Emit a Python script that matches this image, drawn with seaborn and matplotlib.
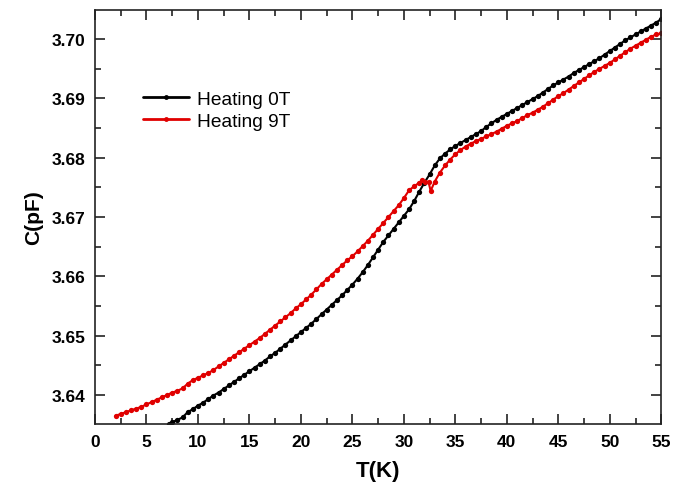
import numpy as np
import pandas as pd
import matplotlib
matplotlib.use("Agg")
import matplotlib.pyplot as plt
import seaborn as sns
from matplotlib.ticker import MultipleLocator, FormatStrFormatter

# ---- data ----
temp_0T = [7.2, 7.5, 8, 8.5, 9, 9.5, 10, 10.5, 11, 11.5, 12, 12.5, 13, 13.5, 14, 14.5,
           15, 15.5, 16, 16.5, 17, 17.5, 18, 18.5, 19, 19.5, 20, 20.5, 21, 21.5, 22,
           22.5, 23, 23.5, 24, 24.5, 25, 25.5, 26, 26.5, 27, 27.5, 28, 28.5, 29, 29.5,
           30, 30.5, 31, 31.5, 32, 32.5, 33, 33.5, 34, 34.5, 35, 35.5, 36, 36.5, 37,
           37.5, 38, 38.5, 39, 39.5, 40, 40.5, 41, 41.5, 42, 42.5, 43, 43.5, 44, 44.5,
           45, 45.5, 46, 46.5, 47, 47.5, 48, 48.5, 49, 49.5, 50, 50.5, 51, 51.5, 52,
           52.5, 53, 53.5, 54, 54.5, 55]
cap_0T = [3.6351, 3.6354, 3.6358, 3.6362, 3.6371, 3.6376, 3.6382, 3.6387, 3.6393, 3.6399,
          3.6404, 3.6410, 3.6416, 3.6422, 3.6428, 3.6434, 3.6440, 3.6446, 3.6452, 3.6458,
          3.6465, 3.6471, 3.6478, 3.6485, 3.6492, 3.6499, 3.6506, 3.6513, 3.6520, 3.6528,
          3.6536, 3.6544, 3.6552, 3.6560, 3.6568, 3.6577, 3.6586, 3.6596, 3.6607, 3.6619,
          3.6632, 3.6645, 3.6658, 3.6669, 3.6680, 3.6691, 3.6702, 3.6713, 3.6727, 3.6743,
          3.6758, 3.6772, 3.6787, 3.6799, 3.6807, 3.6814, 3.6820, 3.6825, 3.6830, 3.6835,
          3.6840, 3.6845, 3.6852, 3.6858, 3.6864, 3.6869, 3.6874, 3.6879, 3.6884, 3.6889,
          3.6894, 3.6899, 3.6904, 3.6910, 3.6916, 3.6922, 3.6927, 3.6932, 3.6937, 3.6943,
          3.6948, 3.6953, 3.6958, 3.6963, 3.6968, 3.6974, 3.6980, 3.6986, 3.6992, 3.6998,
          3.7003, 3.7008, 3.7013, 3.7018, 3.7023, 3.7028, 3.7034]

temp_9T = [2, 2.5, 3, 3.5, 4, 4.5, 5, 5.5, 6, 6.5, 7, 7.5, 8, 8.5, 9, 9.5, 10, 10.5,
           11, 11.5, 12, 12.5, 13, 13.5, 14, 14.5, 15, 15.5, 16, 16.5, 17, 17.5, 18,
           18.5, 19, 19.5, 20, 20.5, 21, 21.5, 22, 22.5, 23, 23.5, 24, 24.5, 25, 25.5,
           26, 26.5, 27, 27.5, 28, 28.5, 29, 29.5, 30, 30.5, 31, 31.5, 31.8, 32.1, 32.4,
           32.6, 33, 33.5, 34, 34.5, 35, 35.5, 36, 36.5, 37, 37.5, 38, 38.5, 39, 39.5,
           40, 40.5, 41, 41.5, 42, 42.5, 43, 43.5, 44, 44.5, 45, 45.5, 46, 46.5, 47,
           47.5, 48, 48.5, 49, 49.5, 50, 50.5, 51, 51.5, 52, 52.5, 53, 53.5, 54, 54.5, 55]
cap_9T = [3.6365, 3.6368, 3.6371, 3.6374, 3.6377, 3.6380, 3.6384, 3.6388, 3.6392, 3.6396,
          3.6400, 3.6404, 3.6407, 3.6411, 3.6419, 3.6425, 3.6429, 3.6433, 3.6437, 3.6442,
          3.6448, 3.6454, 3.6460, 3.6466, 3.6472, 3.6478, 3.6484, 3.6490, 3.6496, 3.6503,
          3.6510, 3.6517, 3.6524, 3.6531, 3.6538, 3.6546, 3.6553, 3.6561, 3.6569, 3.6578,
          3.6587, 3.6595, 3.6603, 3.6611, 3.6619, 3.6627, 3.6634, 3.6642, 3.6651, 3.6660,
          3.6670, 3.6680, 3.6690, 3.6700, 3.6710, 3.6720, 3.6732, 3.6745, 3.6752, 3.6758,
          3.6762, 3.6760, 3.6759, 3.6744, 3.6760, 3.6775, 3.6787, 3.6797, 3.6806, 3.6813,
          3.6819, 3.6824, 3.6828, 3.6832, 3.6836, 3.6840, 3.6844, 3.6849, 3.6854, 3.6858,
          3.6862, 3.6867, 3.6872, 3.6876, 3.6881, 3.6886, 3.6892, 3.6898, 3.6904, 3.6909,
          3.6915, 3.6921, 3.6927, 3.6933, 3.6939, 3.6945, 3.6950, 3.6955, 3.6960, 3.6966,
          3.6972, 3.6978, 3.6984, 3.6989, 3.6994, 3.6999, 3.7004, 3.7008, 3.7010]

labels = ["Heating 0T", "Heating 9T"]
colors = ["#000000", "#e00000"]

# ---- figure ----
sns.set_theme(style="ticks")
plt.rcParams["font.family"] = ["Liberation Sans", "DejaVu Sans"]
plt.rcParams["text.color"] = "black"
plt.rcParams["axes.labelcolor"] = "black"

fig = plt.figure(figsize=(6.81, 4.85), dpi=100)
ax = fig.add_axes([0.1395, 0.1237, 0.8315, 0.8533])

df0 = pd.DataFrame({"T": temp_0T, "C": cap_0T})
df9 = pd.DataFrame({"T": temp_9T, "C": cap_9T})
sns.lineplot(data=df0, x="T", y="C", ax=ax, color=colors[0], marker="o",
             markersize=3.8, markeredgewidth=0, linewidth=1.5, label=labels[0])
sns.lineplot(data=df9, x="T", y="C", ax=ax, color=colors[1], marker="o",
             markersize=3.8, markeredgewidth=0, linewidth=1.5, label=labels[1])

ax.set_xlim(0, 55)
ax.set_ylim(3.6351, 3.7049)
ax.xaxis.set_major_locator(MultipleLocator(5))
ax.xaxis.set_minor_locator(MultipleLocator(2.5))
ax.yaxis.set_major_locator(MultipleLocator(0.01))
ax.yaxis.set_minor_locator(MultipleLocator(0.005))
ax.yaxis.set_major_formatter(FormatStrFormatter("%.2f"))

ax.tick_params(axis="both", which="both", direction="in", top=True, bottom=True,
               left=True, right=True, width=1.2, colors="#222222", labelcolor="black")
ax.tick_params(axis="both", which="major", length=7, labelsize=12.5)
ax.tick_params(axis="both", which="minor", length=4)
ax.tick_params(axis="x", which="major", pad=7)
ax.tick_params(axis="y", which="major", pad=7)
for lab in ax.get_xticklabels() + ax.get_yticklabels():
    lab.set_fontweight("bold")

for s in ax.spines.values():
    s.set_linewidth(1.2)
    s.set_color("#222222")

ax.set_xlabel("T(K)", fontsize=16, fontweight="bold", labelpad=8, color="black")
ax.set_ylabel("C(pF)", fontsize=15, fontweight="bold", labelpad=6, color="black")

leg = ax.legend(loc="upper left", bbox_to_anchor=(0.055, 0.848), frameon=False,
                fontsize=13.8, handlelength=2.4, handletextpad=0.4,
                labelspacing=0.25, numpoints=1)
for line in leg.get_lines():
    line.set_linewidth(2.0)
    line.set_markersize(3.5)
for t in leg.get_texts():
    t.set_color("black")

fig.savefig("out.png", dpi=100)
